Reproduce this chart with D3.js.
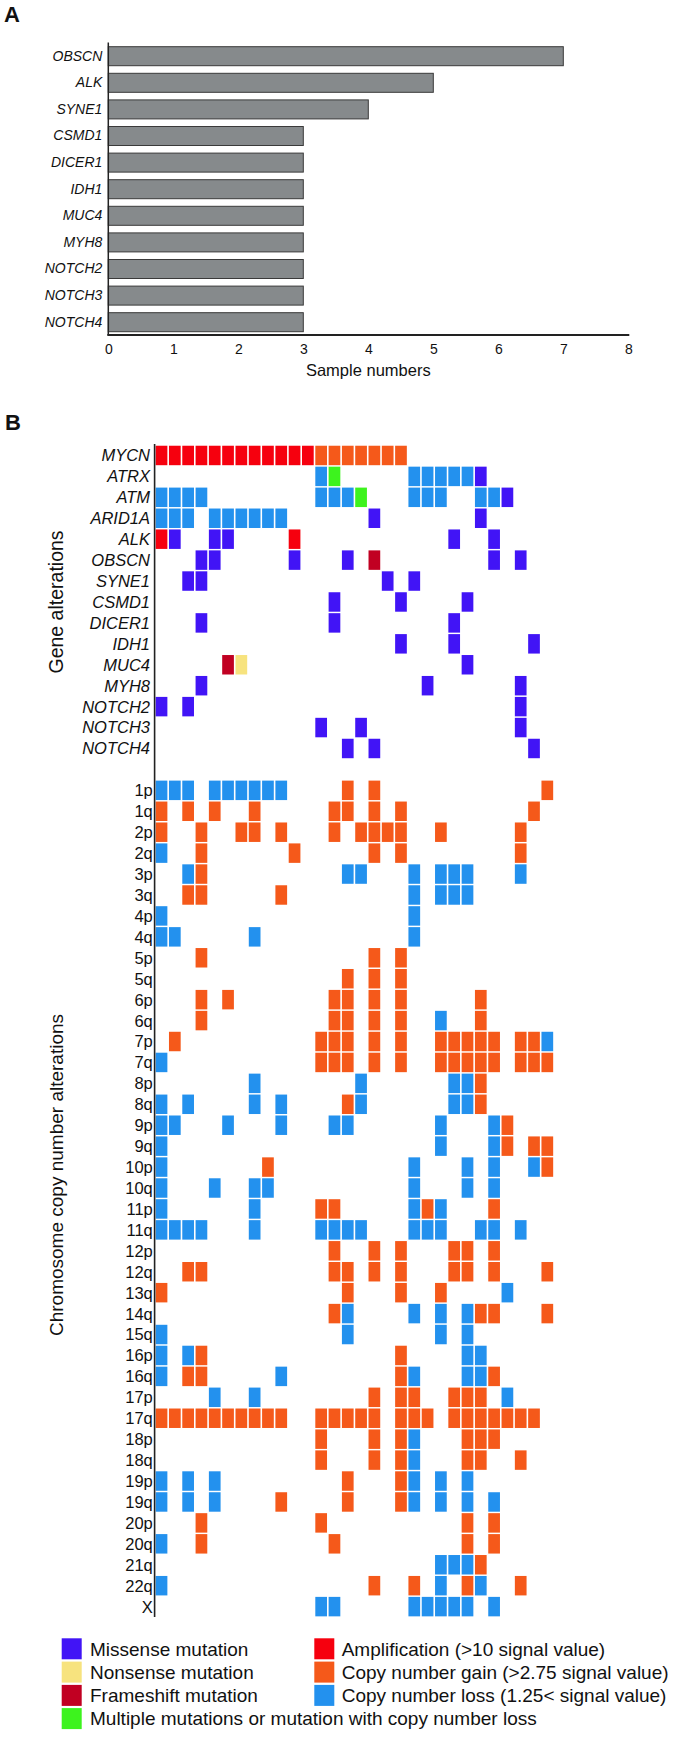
<!DOCTYPE html>
<html>
<head>
<meta charset="utf-8">
<script src="https://cdn.jsdelivr.net/npm/d3@7"></script>
<style>
  html, body { margin: 0; padding: 0; background: #fff; }
  svg { display: block; }
  text { font-family: "Liberation Sans", Arial, Helvetica, sans-serif; fill: #111; }
</style>
</head>
<body>
<svg id="chart" width="678" height="1738"></svg>
<script>
// ---------------- Panel A data ----------------
const barGenes  = ["OBSCN","ALK","SYNE1","CSMD1","DICER1","IDH1","MUC4","MYH8","NOTCH2","NOTCH3","NOTCH4"];
const barValues = [7, 5, 4, 3, 3, 3, 3, 3, 3, 3, 3];
const barTicks  = [0, 1, 2, 3, 4, 5, 6, 7, 8];

// ---------------- Panel B data ----------------
// Cell codes: M missense, N nonsense, F frameshift, U multiple/mutation+loss,
//             A amplification, G copy number gain, L copy number loss
// Each entry: code + sample column index (or range) for the 30 samples.
const sampleCount = 30;
const geneNames = ["MYCN","ATRX","ATM","ARID1A","ALK","OBSCN","SYNE1","CSMD1","DICER1","IDH1","MUC4","MYH8","NOTCH2","NOTCH3","NOTCH4"];
const geneCells = [
  "A0-11 G12-18",
  "L12 U13 L19-23 M24",
  "L0-3 L12-14 U15 L19-21 L24-25 M26",
  "L0-2 L4-9 M16 M24",
  "A0 M1 M4-5 A10 M22 M25",
  "M3-4 M10 M14 F16 M25 M27",
  "M2-3 M17 M19",
  "M13 M18 M23",
  "M3 M13 M22",
  "M18 M22 M28",
  "F5 N6 M23",
  "M3 M20 M27",
  "M0 M2 M27",
  "M12 M15 M27",
  "M14 M16 M28"
];
const chromArms = ["1p","1q","2p","2q","3p","3q","4p","4q","5p","5q","6p","6q","7p","7q","8p","8q","9p","9q","10p","10q","11p","11q","12p","12q","13q","14q","15q","16p","16q","17p","17q","18p","18q","19p","19q","20p","20q","21q","22q","X"];
const chromCells = [
  "L0-2 L4-9 G14 G16 G29",
  "G0 G2 G4 G7 G13-14 G16 G18 G28",
  "G0 G3 G6-7 G9 G13 G15-18 G21 G27",
  "L0 G3 G10 G16 G18 G27",
  "L2 G3 L14-15 L19 L21-23 L27",
  "G2-3 G9 L19 L21-23",
  "L0 L19",
  "L0-1 L7 L19",
  "G3 G16 G18",
  "G14 G16 G18",
  "G3 G5 G13-14 G16 G18 G24",
  "G3 G13-14 G16 G18 L21 G24",
  "G1 G12-14 G16 G18 G21-25 G27-28 L29",
  "L0 G12-14 G16 G18 G21-25 G27-29",
  "L7 L15 L22-23 G24",
  "L0 L2 L7 L9 G14 L15 L22-23 G24",
  "L0-1 L5 L9 L13-14 L21 L25 G26",
  "L0 L21 L25 G26 G28-29",
  "L0 G8 L19 L23 L25 L28 G29",
  "L0 L4 L7-8 L19 L23 L25",
  "L0 L7 G12-13 L19 G20 L21 G25",
  "L0-3 L7 L12-15 L19-21 L24-25 L27",
  "G13 G16 G18 G22-23 G25",
  "G2-3 G13-14 G16 G18 G22-23 G25 G29",
  "G0 G14 G18 G21 L26",
  "G13 L14 L19 L21 L23 G24-25 G29",
  "L0 L14 L21 L23",
  "L0 L2 G3 G18 L23-24",
  "L0 G2-3 L9 G18 L19 L23-24 G25",
  "L4 L7 G16 G18-19 G22-24 L26",
  "G0-9 G12-16 G18-20 G22-28",
  "G12 G16 G18 L19 G23-25",
  "G12 G16 G18 L19 G23-24 G27",
  "L0 L2 L4 G14 G18 L19 L21 L23",
  "L0 L2 L4 G9 G14 G18 L19 L21 L23 L25",
  "G3 G12 G23 G25",
  "L0 G3 G13 G23 G25",
  "L21-23 G24",
  "L0 G16 G19 L21 G23 L24 G27",
  "L12-13 L19-23 L25"
];

// Legend
const legendCol1Codes  = ["M","N","F","U"];
const legendCol1Labels = ["Missense mutation","Nonsense mutation","Frameshift mutation","Multiple mutations or mutation with copy number loss"];
const legendCol2Codes  = ["A","G","L"];
const legendCol2Labels = ["Amplification (>10 signal value)","Copy number gain (>2.75 signal value)","Copy number loss (1.25< signal value)"];

const colorCodes  = ["M","N","F","U","A","G","L"];
const colorValues = ["#4114F6","#F7E37E","#C10022","#3DF31E","#F6000E","#F5591A","#2391EE"];
const color = d3.scaleOrdinal().domain(colorCodes).range(colorValues);

// ---------------- Drawing ----------------
const svg = d3.select("#chart");
const font = '"Liberation Sans", Arial, Helvetica, sans-serif';

// ===== Panel A =====
svg.append("text").attr("x", 4).attr("y", 22).attr("font-size", 22).attr("font-weight", "bold").text("A");

const xBar = d3.scaleLinear().domain([0, 8]).range([108.3, 628.3]);
const yBar = d3.scaleBand().domain(barGenes).range([42.9, 335.5]).paddingInner(0.2857).paddingOuter(0.1429);

const gA = svg.append("g");
gA.selectAll("rect.bar").data(barGenes).join("rect")
  .attr("class", "bar")
  .attr("x", xBar(0))
  .attr("y", d => yBar(d))
  .attr("width", (d, i) => xBar(barValues[i]) - xBar(0))
  .attr("height", yBar.bandwidth())
  .attr("fill", "#868a8c")
  .attr("stroke", "#3a3a3a")
  .attr("stroke-width", 1);

const yAxisA = d3.axisLeft(yBar).tickSize(0).tickPadding(6);
const gyA = gA.append("g").attr("transform", `translate(${xBar(0)},0)`).call(yAxisA);
gyA.select(".domain").remove();
gyA.selectAll("text").attr("font-size", 14).attr("font-style", "italic").attr("font-family", font).attr("fill", "#222");
gA.append("line").attr("x1", xBar(0)).attr("x2", xBar(0)).attr("y1", 42.5).attr("y2", 335)
  .attr("stroke", "#222").attr("stroke-width", 1.5);

const xAxisA = d3.axisBottom(xBar).tickValues(barTicks).tickFormat(d3.format("d")).tickSize(0).tickPadding(9);
const gxA = gA.append("g").attr("transform", "translate(0,335)").call(xAxisA);
gxA.select(".domain").remove();
gxA.selectAll("text").attr("font-size", 14).attr("font-family", font).attr("fill", "#222");
gA.append("line").attr("x1", xBar(0) - 1).attr("x2", xBar(8) + 1).attr("y1", 335).attr("y2", 335)
  .attr("stroke", "#222").attr("stroke-width", 2);

gA.append("text").attr("x", (xBar(0) + xBar(8)) / 2).attr("y", 376).attr("text-anchor", "middle")
  .attr("font-size", 16.5).text("Sample numbers");

// ===== Panel B =====
svg.append("text").attr("x", 5).attr("y", 430).attr("font-size", 22).attr("font-weight", "bold").text("B");

const rowKeys = geneNames.map(g => "g:" + g).concat(["gap"]).concat(chromArms.map(c => "c:" + c));
const yRow = d3.scaleBand().domain(rowKeys).range([445.0, 445.0 + rowKeys.length * 20.93]).paddingInner(0.07).paddingOuter(0.035);
const xCol = d3.scaleBand().domain(d3.range(sampleCount)).range([155.67, 155.67 + sampleCount * 13.25]).paddingInner(0.12).paddingOuter(0.0);

function parseCells(spec, key) {
  const out = [];
  spec.split(/\s+/).filter(s => s.length).forEach(tok => {
    const code = tok[0];
    const parts = tok.slice(1).split("-").map(Number);
    const a = parts[0], b = parts.length > 1 ? parts[1] : parts[0];
    for (let c = a; c <= b; c++) out.push({ key, col: c, code });
  });
  return out;
}
const cells = [];
geneNames.forEach((g, i) => cells.push(...parseCells(geneCells[i], "g:" + g)));
chromArms.forEach((c, i) => cells.push(...parseCells(chromCells[i], "c:" + c)));

const gB = svg.append("g");
gB.selectAll("rect.cell").data(cells).join("rect")
  .attr("class", "cell")
  .attr("x", d => xCol(d.col))
  .attr("y", d => yRow(d.key))
  .attr("width", xCol.bandwidth())
  .attr("height", yRow.bandwidth())
  .attr("fill", d => color(d.code));

gB.selectAll("text.gene").data(geneNames).join("text")
  .attr("class", "gene")
  .attr("x", 150)
  .attr("y", d => yRow("g:" + d) + yRow.bandwidth() / 2)
  .attr("dy", "0.36em")
  .attr("text-anchor", "end")
  .attr("font-size", 16.5)
  .attr("font-style", "italic")
  .text(d => d);

gB.selectAll("text.arm").data(chromArms).join("text")
  .attr("class", "arm")
  .attr("x", 152.8)
  .attr("y", d => yRow("c:" + d) + yRow.bandwidth() / 2)
  .attr("dy", "0.36em")
  .attr("text-anchor", "end")
  .attr("font-size", 16.5)
  .text(d => d);

gB.append("line").attr("x1", 154.6).attr("x2", 154.6)
  .attr("y1", 444).attr("y2", 1617)
  .attr("stroke", "#222").attr("stroke-width", 1.6);

const geneMid = (yRow("g:" + geneNames[0]) + yRow("g:" + geneNames[geneNames.length - 1]) + yRow.bandwidth()) / 2;
svg.append("text").attr("transform", `translate(62.5,${geneMid}) rotate(-90)`)
  .attr("text-anchor", "middle").attr("font-size", 19.5).text("Gene alterations");
svg.append("text").attr("transform", `translate(62.5,1175) rotate(-90)`)
  .attr("text-anchor", "middle").attr("font-size", 19).text("Chromosome copy number alterations");

// ===== Legend =====
const legY = [1648.8, 1672.1, 1695.4, 1718.6];
const gL = svg.append("g");
function legendColumn(codes, labels, sx, tx) {
  codes.forEach((c, i) => {
    gL.append("rect").attr("x", sx).attr("y", legY[i] - 10.5).attr("width", 20).attr("height", 21)
      .attr("fill", color(c));
    gL.append("text").attr("x", tx).attr("y", legY[i]).attr("dy", "0.36em")
      .attr("font-size", 19).text(labels[i]);
  });
}
legendColumn(legendCol1Codes, legendCol1Labels, 61.7, 90);
legendColumn(legendCol2Codes, legendCol2Labels, 314.3, 341.7);
</script>
</body>
</html>
